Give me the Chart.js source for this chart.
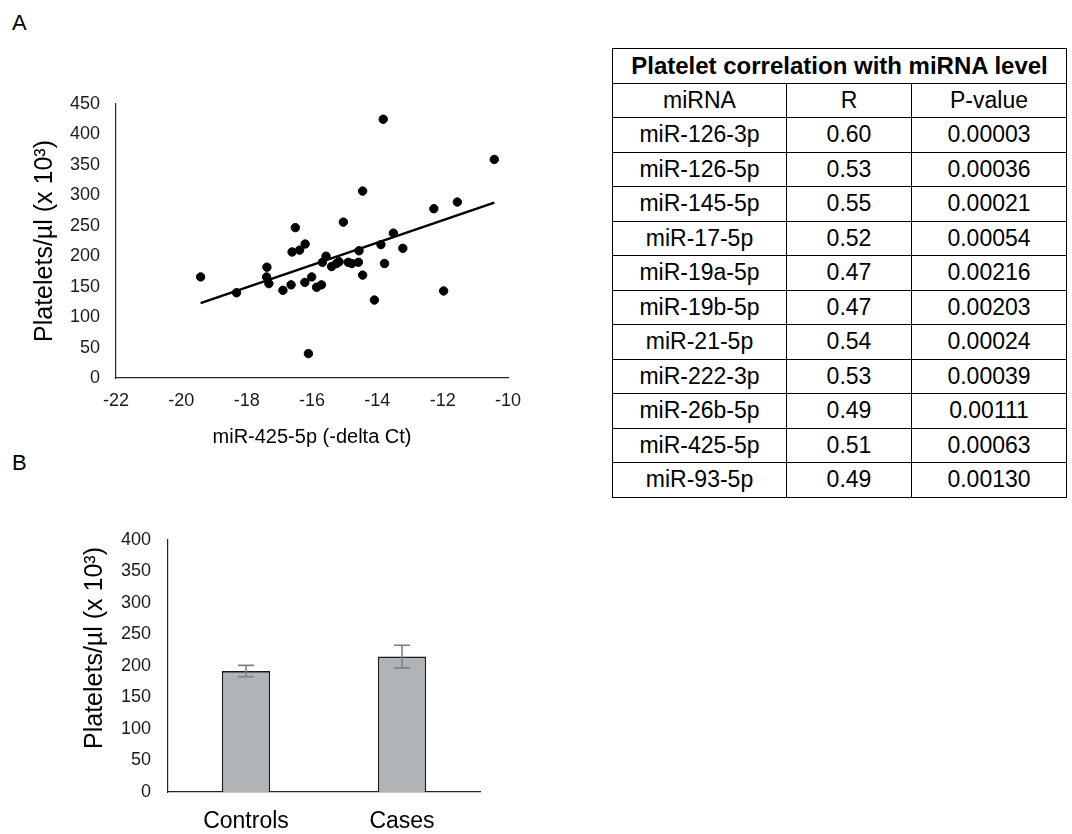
<!DOCTYPE html>
<html>
<head>
<meta charset="utf-8">
<script src="https://cdn.jsdelivr.net/npm/chart.js@4.4.0/dist/chart.umd.min.js"></script>
<style>
  body { margin: 0; background: #fff; font-family: "Liberation Sans", Arial, sans-serif; }
  #page { position: relative; width: 1072px; height: 834px; overflow: hidden; background: #fff; }
  .panel-label { position: absolute; font-size: 22px; color: #000; line-height: 1; }
  #scatterChart { position: absolute; left: 0; top: 0; }
  #barChart { position: absolute; left: 0; top: 470px; }
  #corrTable { position: absolute; left: 612px; top: 48px; border-collapse: collapse; font-size: 23px; color: #000; }
  #corrTable td { border: 1px solid #000; height: 33.5px; padding: 0; text-align: center; }
  #corrTable td.head { font-weight: bold; font-size: 24px; }
</style>
</head>
<body>
<div id="page">
  <div class="panel-label" style="left:12px; top:12px;">A</div>
  <div class="panel-label" style="left:12px; top:452px;">B</div>
  <canvas id="scatterChart" width="560" height="460"></canvas>
  <canvas id="barChart" width="520" height="364"></canvas>
  <table id="corrTable"></table>
</div>
<script>
// panel A scatter: miR-425-5p (-delta Ct) vs platelets
let scatter_x = [-19.41, -18.31, -17.38, -17.39, -17.32, -16.89, -16.64, -16.22, -16.01, -15.86,
                 -15.71, -16.61, -16.38, -16.21, -16.51, -15.57, -15.68, -15.40, -15.25, -15.17,
                 -14.89, -14.78, -14.58, -14.56, -14.45, -15.04, -14.45, -14.09, -13.89, -13.78,
                 -13.51, -13.22, -13.82, -12.27, -11.55, -11.97, -10.42, -16.11];
let scatter_y = [166, 140, 182, 166, 155, 144, 153, 157, 166, 149,
                 153, 207, 210, 220, 247, 200, 190, 183, 188, 191,
                 190, 188, 190, 209, 169, 256, 307, 128, 219, 188,
                 238, 213, 425, 278, 289, 143, 359, 40];
let trend_x = [-19.41, -10.42];
let trend_y = [123, 288];

// panel B bars
let groups = ['Controls', 'Cases'];
let group_means = [192, 215];
let group_errors = [9, 18];

// table
let table_title = 'Platelet correlation with miRNA level';
let table_columns = ['miRNA', 'R', 'P-value'];
let table_mirna = ['miR-126-3p', 'miR-126-5p', 'miR-145-5p', 'miR-17-5p', 'miR-19a-5p', 'miR-19b-5p',
                   'miR-21-5p', 'miR-222-3p', 'miR-26b-5p', 'miR-425-5p', 'miR-93-5p'];
let table_r = ['0.60', '0.53', '0.55', '0.52', '0.47', '0.47', '0.54', '0.53', '0.49', '0.51', '0.49'];
let table_p = ['0.00003', '0.00036', '0.00021', '0.00054', '0.00216', '0.00203', '0.00024', '0.00039',
               '0.00111', '0.00063', '0.00130'];

let y_title = 'Platelets/\u00b5l (x 10\u00b3)';
let font_family = '"Liberation Sans", Arial, sans-serif';

function build_table()
{
    let widths = [173, 124, 154];
    let html = '<tr><td class="head" colspan="3">' + table_title + '</td></tr>';
    html += '<tr>';
    for (let i = 0; i < table_columns.length; i++) {
        html += '<td style="width:' + widths[i] + 'px">' + table_columns[i] + '</td>';
    }
    html += '</tr>';
    for (let i = 0; i < table_mirna.length; i++) {
        html += '<tr><td>' + table_mirna[i] + '</td><td>' + table_r[i] + '</td><td>' + table_p[i] + '</td></tr>';
    }
    document.getElementById('corrTable').innerHTML = html;
}

function to_points(xs, ys)
{
    let pts = [];
    for (let i = 0; i < xs.length; i++) {
        pts.push({x: xs[i], y: ys[i]});
    }
    return pts;
}

// error bars for panel B, drawn through the y scale
const errorBars = {
    id: 'errorBars',
    afterDatasetsDraw(chart) {
        let ctx = chart.ctx;
        let meta = chart.getDatasetMeta(0);
        let yScale = chart.scales.y;
        ctx.save();
        ctx.strokeStyle = '#808080';
        ctx.lineWidth = 1.6;
        for (let i = 0; i < meta.data.length; i++) {
            let x = meta.data[i].x;
            let top = yScale.getPixelForValue(group_means[i] + group_errors[i]);
            let bottom = yScale.getPixelForValue(group_means[i] - group_errors[i]);
            ctx.beginPath();
            ctx.moveTo(x, top); ctx.lineTo(x, bottom);
            ctx.moveTo(x - 8, top); ctx.lineTo(x + 8, top);
            ctx.moveTo(x - 8, bottom); ctx.lineTo(x + 8, bottom);
            ctx.stroke();
        }
        ctx.restore();
    }
};

// rotated y title for panel B (sits a little above the axis centre)
const barTitle = {
    id: 'barTitle',
    afterDraw(chart) {
        let ctx = chart.ctx;
        ctx.save();
        ctx.translate(95, 178);
        ctx.rotate(-Math.PI / 2);
        ctx.font = '25px ' + font_family;
        ctx.fillStyle = '#000';
        ctx.textAlign = 'center';
        ctx.textBaseline = 'middle';
        ctx.fillText(y_title, 0, 0);
        ctx.restore();
    }
};

build_table();

Chart.defaults.font.family = font_family;
Chart.defaults.color = '#000';

let scatter_config = {
    type: 'scatter',
    data: {
        datasets: [
            {
                data: to_points(scatter_x, scatter_y),
                backgroundColor: '#000',
                borderColor: '#000',
                pointRadius: 4.2,
                pointHoverRadius: 4.2
            },
            {
                type: 'line',
                data: to_points(trend_x, trend_y),
                borderColor: '#000',
                borderWidth: 2.6,
                pointRadius: 0,
                fill: false
            }
        ]
    },
    options: {
        responsive: false,
        animation: false,
        devicePixelRatio: 1,
        layout: { padding: { top: 104, right: 52, left: 0, bottom: 0 } },
        plugins: { legend: { display: false }, tooltip: { enabled: false } },
        scales: {
            x: {
                type: 'linear',
                min: -22,
                max: -10,
                afterFit(scale) { scale.height = 82; },
                grid: { display: false, drawTicks: false, tickLength: 0 },
                border: { display: true, color: '#262626', width: 1.2 },
                ticks: { stepSize: 2, padding: 12, font: { size: 18 }, color: '#1a1a1a' },
                title: { display: true, text: 'miR-425-5p (-delta Ct)', font: { size: 20 }, padding: { top: 0, bottom: 11 } }
            },
            y: {
                min: 0,
                max: 450,
                afterFit(scale) { scale.width = 116; },
                grid: { display: false, drawTicks: false, tickLength: 0 },
                border: { display: true, color: '#262626', width: 1.2 },
                ticks: { stepSize: 50, padding: 16, font: { size: 18 }, color: '#1a1a1a' },
                title: { display: true, text: y_title, font: { size: 25 }, padding: { top: 30, bottom: 0 } }
            }
        }
    }
};

let bar_config = {
    type: 'bar',
    data: {
        labels: groups,
        datasets: [
            {
                data: group_means,
                backgroundColor: '#b1b4b7',
                borderColor: '#1a1a1a',
                borderWidth: 1.6,
                barPercentage: 0.31,
                categoryPercentage: 1.0
            }
        ]
    },
    options: {
        responsive: false,
        animation: false,
        devicePixelRatio: 1,
        layout: { padding: { top: 70, right: 40, left: 0, bottom: 0 } },
        plugins: { legend: { display: false }, tooltip: { enabled: false } },
        scales: {
            x: {
                afterFit(scale) { scale.height = 42; },
                grid: { display: false, drawTicks: false, tickLength: 0 },
                border: { display: true, color: '#262626', width: 1.2 },
                ticks: { padding: 16, font: { size: 23 }, color: '#000' }
            },
            y: {
                min: 0,
                max: 400,
                afterFit(scale) { scale.width = 168; },
                grid: { display: false, drawTicks: false, tickLength: 0 },
                border: { display: true, color: '#262626', width: 1.2 },
                ticks: { stepSize: 50, padding: 17, font: { size: 18 }, color: '#1a1a1a' }
            }
        }
    },
    plugins: [errorBars, barTitle]
};

new Chart(document.getElementById('scatterChart'), scatter_config);
new Chart(document.getElementById('barChart'), bar_config);
</script>
</body>
</html>
